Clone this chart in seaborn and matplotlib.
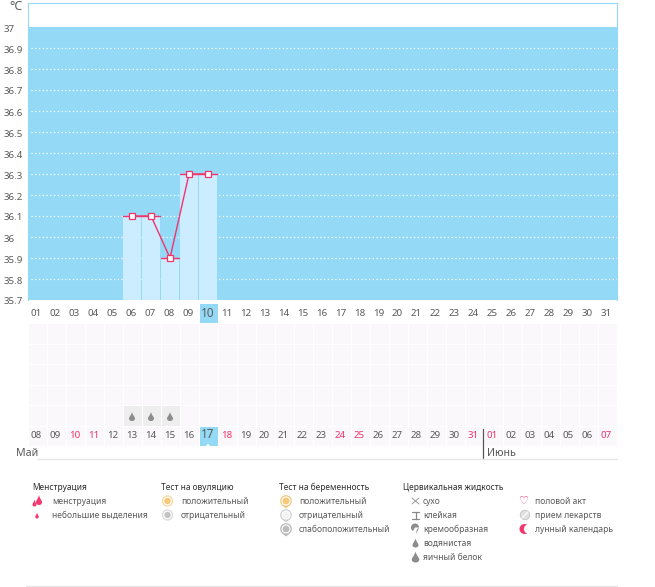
import numpy as np
import pandas as pd
import seaborn as sns
import matplotlib
matplotlib.use("Agg")
import matplotlib.pyplot as plt
from matplotlib.colors import ListedColormap
from matplotlib.path import Path
from matplotlib.patches import Circle, Wedge, Polygon, PathPatch

top_labels = [f"{d:02d}" for d in range(1, 32)]
bottom_labels = ["08","09","10","11","12","13","14","15","16","17","18","19","20","21","22","23",
                 "24","25","26","27","28","29","30","31","01","02","03","04","05","06","07"]
red_labels = {2, 3, 10, 16, 17, 23, 24, 30}
temp_days = [6, 7, 8, 9, 10]
temp_values = [36.1, 36.1, 35.9, 36.3, 36.3]
y_ticks = [37, 36.9, 36.8, 36.7, 36.6, 36.5, 36.4, 36.3, 36.2, 36.1, 36, 35.9, 35.8, 35.7]
fluid_days = [5, 6, 7]
today_top = 9
today_bottom = 9

W, H = 655, 587
BLUE = "#94d9f6"
BAR = "#ccedff"
RED = "#f2336b"
TXT = "#5a5a5a"
sns.set_theme(style="white")
plt.rcParams["font.family"] = ["Noto Sans", "DejaVu Sans"]
fig = plt.figure(figsize=(W / 100, H / 100), dpi=100, facecolor="white")

def box(l, t, r, b):
    return [l / W, 1 - b / H, (r - l) / W, (b - t) / H]

# temperature chart
ax = fig.add_axes(box(27.5, 3, 617, 300))
ax.set_facecolor("white")
ax.set_xlim(0.5, 31.52)
ax.set_ylim(35.7, 37 + 24 / 210)
ax.axhspan(35.7, 37, color=BLUE, lw=0, zorder=0)
for v in y_ticks[1:-1]:
    ax.plot([0.7, 31.52], [v, v], color="white", lw=0.9, ls=(0, (1, 2)), zorder=1)
df = pd.DataFrame({"day": temp_days, "temp": temp_values})
ax.bar(df["day"], df["temp"] - 35.7, bottom=35.7, width=0.92, color=BAR, lw=0, zorder=2)
for a, b, v in [(6, 7, 36.1), (8, 8, 35.9), (9, 10, 36.3)]:
    ax.plot([a - .5, b + .45], [v, v], color=RED, lw=1.0, zorder=3)
sns.lineplot(data=df, x="day", y="temp", ax=ax, color=RED, lw=1.0, marker="s", ms=3.8,
             mfc="white", mec=RED, mew=0.9, zorder=4, errorbar=None)
ax.set_xlabel(""); ax.set_ylabel("")
ax.set_xticks([])
ax.set_yticks([])
for v in y_ticks:
    ax.annotate(f"{v:g}", xy=(0, v), xycoords=ax.get_yaxis_transform(), xytext=(-23.5, -2),
                textcoords="offset pixels", fontsize=7, color=TXT, ha="left", va="center", annotation_clip=False)
for s in ax.spines.values():
    s.set_color(BLUE); s.set_linewidth(0.8)
ax.spines["bottom"].set_visible(False)

# day grid: label row, five symptom rows, label row
grid = np.ones((7, 31), dtype=int)
grid[0, :] = 0
grid[0, today_top] = 3
grid[5, fluid_days] = 2
grid[6, today_bottom] = 3
gx = fig.add_axes(box(28, 303, 617, 446))
sns.heatmap(grid, ax=gx, cmap=ListedColormap(["#ffffff", "#faf8fa", "#eeeeee", BLUE]), vmin=0, vmax=3,
            cbar=False, linewidths=0.7, linecolor="white", xticklabels=False, yticklabels=False)
for i, t in enumerate(top_labels):
    hl = i == today_top
    gx.text(i + .45, .5, t, ha="center", va="center", fontsize=8.5 if hl else 7, color=TXT)
for i, t in enumerate(bottom_labels):
    hl = i == today_bottom
    gx.text(i + .45, 6.5 - (.08 if hl else 0), t, ha="center", va="center", fontsize=8.5 if hl else 7,
            color=RED if i in red_labels else TXT)

# overlay in pixel coordinates
ov = fig.add_axes([0, 0, 1, 1], facecolor="none")
ov.set_xlim(0, W); ov.set_ylim(H, 0); ov.axis("off")

def T(x, y, s, **k):
    k.setdefault("fontsize", 6.1); k.setdefault("color", TXT)
    ov.text(x, y, s, va="center", ha="left", **k)

def drop(x, y, w, h, color):
    v = [(x, y - h * .5), (x + w * .15, y - h * .1), (x + w * .5, y + h * .05), (x + w * .5, y + h * .22),
         (x + w * .5, y + h * .42), (x + w * .25, y + h * .5), (x, y + h * .5),
         (x - w * .25, y + h * .5), (x - w * .5, y + h * .42), (x - w * .5, y + h * .22),
         (x - w * .5, y + h * .05), (x - w * .15, y - h * .1), (x, y - h * .5), (x, y - h * .5)]
    c = [Path.MOVETO] + [Path.CURVE4] * 12 + [Path.CLOSEPOLY]
    ov.add_patch(PathPatch(Path(v, c), fc=color, lw=0))

T(9, 6, "°C", fontsize=9)
for d in fluid_days:
    drop(28 + 19 * d + 9, 416.5, 6, 9, "#8c8c8c")
ov.add_patch(Polygon([(206, 446), (208, 443.5), (210, 446)], fc="white", lw=0))
ov.plot([483, 483], [429, 458], color="#555555", lw=0.9)
ov.plot([37, 617], [458.5, 458.5], color="#e6e6e6", lw=1)
ov.plot([26, 617], [586, 586], color="#e6e6e6", lw=1)
T(16, 453, "Май", fontsize=7.7)
T(487, 453, "Июнь", fontsize=7.7)

# legend
HD = "#2f2f2f"
for x, s in [(32, "Менструация"), (161, "Тест на овуляцию"), (279, "Тест на беременность"), (403, "Цервикальная жидкость")]:
    T(x, 487, s, color=HD, fontsize=6.0)
rows = [501, 515, 529, 543, 557]
T(52, rows[0], "менструация"); T(52, rows[1], "небольшие выделения")
T(181, rows[0], "положительный"); T(181, rows[1], "отрицательный")
T(299, rows[0], "положительный"); T(299, rows[1], "отрицательный"); T(299, rows[2], "слабоположительный")
T(423, rows[0], "сухо"); T(423, rows[1], "клейкая"); T(423, rows[2], "кремообразная")
T(423, rows[3], "водянистая"); T(423, rows[4], "яичный белок")
T(535, rows[0], "половой акт"); T(535, rows[1], "прием лекарств"); T(535, rows[2], "лунный календарь")

PINK = "#f4386f"
drop(39, 500, 6, 10, PINK); drop(34.5, 503, 4, 7, PINK); drop(37, 515.5, 3.5, 6, PINK)
for y, fc, ec in [(501, "#f6c877", "#f8dca8"), (515, "#c4c4c4", "#dedede")]:
    ov.add_patch(Circle((167.5, y), 5, fc="white", ec=ec, lw=1))
    ov.add_patch(Circle((167.5, y), 3.2, fc=fc, lw=0))
for y, fc, ec in [(501, "#f6c877", "#f1c77e"), (515, "#f3f3f3", "#d0d0d0"), (529, "#bdbdbd", "#b8b8b8")]:
    ov.add_patch(Circle((286, y), 5.2, fc="white", ec=ec, lw=0.9))
    ov.add_patch(Circle((286, y), 3.4, fc=fc, lw=0))
    ov.add_patch(Polygon([(283, y + 5), (286, y + 7.5), (289, y + 5)], fc=ec, lw=0))
# fluid icons
ov.plot([412, 419], [498, 504], color="#999999", lw=0.7); ov.plot([412, 419], [504, 498], color="#999999", lw=0.7)
ov.plot([412, 419], [512, 512], color="#888888", lw=0.9); ov.plot([412, 419], [519, 519], color="#888888", lw=0.9)
ov.plot([415.5, 415.5], [512, 519], color="#888888", lw=0.9)
ov.add_patch(Wedge((415, 527.5), 4, 120, 360, fc="#8c8c8c", lw=0))
ov.add_patch(Polygon([(417, 529), (419, 528), (416, 534)], fc="#8c8c8c", lw=0))
drop(415.5, 543, 6, 9, "#8c8c8c")
drop(415.5, 557, 7.5, 11, "#8c8c8c")
# other icons
ov.text(524.5, 500.5, "♡", color=PINK, fontsize=8, ha="center", va="center", fontweight="bold", family=["DejaVu Sans"])
ov.add_patch(Circle((525, 515), 4.7, fc="#e0e0e0", ec="#c8c8c8", lw=0.7))
ov.plot([522, 528], [518, 512], color="white", lw=0.9)
ov.add_patch(Circle((524.5, 529), 5, fc=PINK, lw=0))
ov.add_patch(Circle((528.5, 529), 4.6, fc="white", lw=0))

fig.savefig("out.png", dpi=100, facecolor="white")
